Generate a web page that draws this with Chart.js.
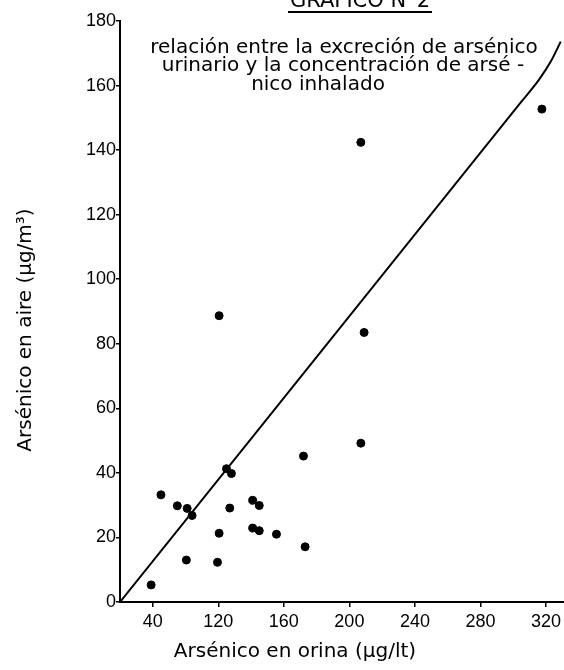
<!DOCTYPE html>
<html>
<head>
<meta charset="utf-8">
<script src="https://cdn.jsdelivr.net/npm/chart.js@4.4.0/dist/chart.umd.min.js"></script>
<style>
  body { margin: 0; background: #fff; }
  canvas { display: block; }
</style>
</head>
<body>
<canvas id="grafico" width="564" height="670"></canvas>
<script>
// measured points: x = arsenico en orina, y = arsenico en aire
let orinaX = [79, 85, 95, 101, 104, 125, 128, 127, 141, 145, 120.5, 141, 145, 155.5, 100.5, 119.5, 172, 207, 173, 207, 317.5, 209, 120.5];
let aireY  = [5.3, 33.2, 29.8, 29, 26.8, 41.3, 39.8, 29.1, 31.5, 29.9, 21.3, 22.9, 22.1, 21, 13, 12.3, 45.2, 49.2, 17.1, 142.4, 152.7, 83.5, 88.7];

// hand drawn line
let lineaX = [60, 305, 316, 323, 329];
let lineaY = [0, 155, 162, 167.5, 173.6];

// the original sheet labels the first tick "40" although it sits at 80
let xTickValues = [80, 120, 160, 200, 240, 280, 320];
let xTickLabels = ['40', '120', '160', '200', '240', '280', '320'];

let header = 'GRAFICO N°2';
let subtitle = ['relación entre la excreción de arsénico', 'urinario y la concentración de arsé -', 'nico inhalado'];
let xTitle = 'Arsénico en orina (µg/lt)';
let yTitle = 'Arsénico en aire (µg/m³)';

const fuente = '"Liberation Sans", "DejaVu Sans", sans-serif';
const fuenteTexto = '"DejaVu Sans", sans-serif';

const textos = {
    id: 'textos',
    afterDraw(chart) {
        const c = chart.ctx;
        c.save();
        c.fillStyle = '#000';
        c.strokeStyle = '#000';
        c.textAlign = 'center';
        c.textBaseline = 'alphabetic';

        c.font = '21px ' + fuenteTexto;
        c.fillText(header, 360, 7);
        c.lineWidth = 2;
        c.beginPath();
        c.moveTo(288, 12);
        c.lineTo(432, 12);
        c.stroke();

        c.font = '20px ' + fuenteTexto;
        c.fillText(subtitle[0], 344, 53);
        c.fillText(subtitle[1], 343, 71);
        c.fillText(subtitle[2], 318, 90);

        c.fillText(xTitle, 295, 657);

        c.translate(31, 330);
        c.rotate(-Math.PI / 2);
        c.fillText(yTitle, 0, 0);
        c.restore();
    }
};

const ctx = document.getElementById('grafico').getContext('2d');
const myChart = new Chart(ctx, {
    type: 'scatter',
    data: {
        datasets: [{
            label: 'datos',
            data: orinaX.map((x, i) => ({ x: x, y: aireY[i] })),
            backgroundColor: '#000',
            borderColor: '#000',
            pointRadius: 4,
            pointHoverRadius: 4
        }, {
            type: 'line',
            label: 'recta',
            data: lineaX.map((x, i) => ({ x: x, y: lineaY[i] })),
            borderColor: '#000',
            borderWidth: 2,
            pointRadius: 0,
            fill: false,
            cubicInterpolationMode: 'monotone'
        }]
    },
    options: {
        responsive: false,
        animation: false,
        devicePixelRatio: 1,
        layout: { autoPadding: false, padding: { top: 21, right: 0, left: 0, bottom: 0 } },
        plugins: {
            legend: { display: false },
            tooltip: { enabled: false }
        },
        scales: {
            x: {
                type: 'linear',
                min: 60,
                max: 331,
                afterBuildTicks: (axis) => {
                    axis.ticks = xTickValues.map(v => ({ value: v }));
                },
                afterFit: (axis) => {
                    axis.height = 68;
                    axis.paddingRight = 0;
                },
                ticks: {
                    autoSkip: false,
                    maxRotation: 0,
                    color: '#000',
                    padding: 4,
                    font: { family: fuente, size: 18 },
                    callback: (v) => xTickLabels[xTickValues.indexOf(v)]
                },
                grid: { drawOnChartArea: false, color: '#000', tickLength: 5, lineWidth: 1.5 },
                border: { color: '#000', width: 2 }
            },
            y: {
                min: 0,
                max: 180,
                afterFit: (axis) => { axis.width = 120; },
                ticks: {
                    stepSize: 20,
                    color: '#000',
                    padding: 0,
                    font: { family: fuente, size: 18 }
                },
                grid: { drawOnChartArea: false, color: '#000', tickLength: 4, lineWidth: 1.5 },
                border: { color: '#000', width: 2 }
            }
        }
    },
    plugins: [textos]
});
</script>
</body>
</html>
